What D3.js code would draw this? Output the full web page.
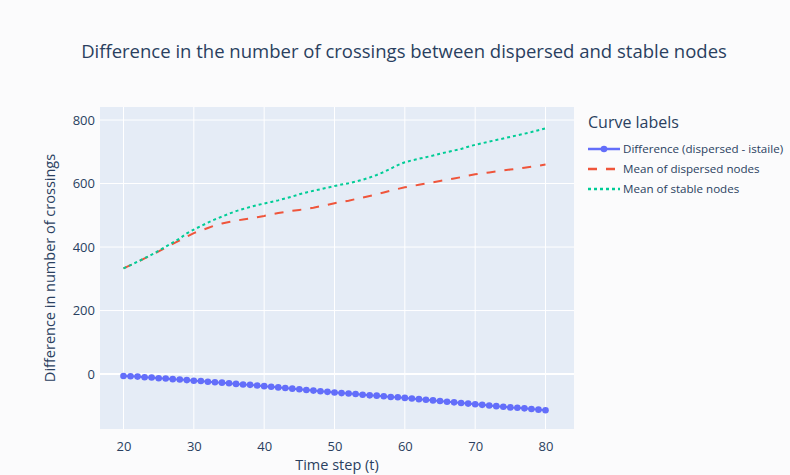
<!DOCTYPE html>
<html><head><meta charset="utf-8">
<script src="https://cdn.jsdelivr.net/npm/d3@7"></script>
<style>
body{margin:0;background:#fbfbfc;}
svg{display:block;font-family:"Open Sans",sans-serif;}
</style></head>
<body><svg id="c" width="790" height="475"></svg>
<script>
const timeSteps = d3.range(20, 81);
const difference = [-6,-7,-8,-10,-11,-13,-14,-16,-17,-19,-21,
  -22,-24,-26,-27,-29,-31,-33,-34,-36,-38,
  -40,-42,-44,-46,-48,-50,-52,-54,-56,-58,
  -60,-61,-63,-65,-67,-68,-70,-72,-73,-75,
  -77,-79,-81,-83,-85,-87,-89,-91,-93,-95,
  -97,-99,-101,-103,-105,-106,-108,-110,-112,-114];
const meanDispersed = [333,343,353,364,375,386,398,410,421,433,444,
  452,460,468,474,479,483,487,490,494,498,
  503,507,510,514,517,520,524,529,533,538,
  542,546,551,556,561,566,572,578,583,588,
  592,596,600,604,608,612,616,620,625,629,
  632,635,638,641,644,647,650,653,656,660];
const meanStable = [333,343,354,365,376,388,401,414,427,443,455,
  466,477,487,496,505,513,520,526,532,537,
  542,547,553,559,566,572,577,582,587,592,
  597,601,606,612,619,627,636,647,658,667,
  673,678,683,688,694,699,704,709,716,722,
  727,732,737,742,747,752,757,762,768,774];
const xTicks = [20,30,40,50,60,70,80];
const yTicks = [0,200,400,600,800];
const titleText = "Difference in the number of crossings between dispersed and stable nodes";
const xTitle = "Time step (t)";
const yTitle = "Difference in number of crossings";
const legendTitle = "Curve labels";
const seriesNames = ["Difference (dispersed - istaile)","Mean of dispersed nodes","Mean of stable nodes"];

const svg = d3.select("#c");
const L=100,R=574,T=107,B=429;
const x = d3.scaleLinear().domain([16.66,84.05]).range([L,R]);
const y = d3.scaleLinear().domain([-173,841]).range([B,T]);
const txt="#2a3f5f";

svg.append("rect").attr("x",L).attr("y",T).attr("width",R-L).attr("height",B-T).attr("fill","#E5ECF6");
const g=svg.append("g");
g.selectAll(".vx").data(xTicks).join("line").attr("x1",d=>x(d)).attr("x2",d=>x(d)).attr("y1",T).attr("y2",B).attr("stroke","#fff").attr("stroke-width",1);
g.selectAll(".hy").data(yTicks).join("line").attr("x1",L).attr("x2",R).attr("y1",d=>y(d)).attr("y2",d=>y(d)).attr("stroke","#fff").attr("stroke-width",d=>d===0?2:1);

// axes
const xa = svg.append("g").attr("transform",`translate(0,${B})`).call(d3.axisBottom(x).tickValues(xTicks).tickSize(0).tickPadding(13));
xa.select(".domain").remove();
xa.selectAll("text").attr("fill",txt).attr("font-size",13).attr("font-family","Open Sans");
const ya = svg.append("g").attr("transform",`translate(${L},0)`).call(d3.axisLeft(y).tickValues(yTicks).tickSize(0).tickPadding(5));
ya.select(".domain").remove();
ya.selectAll("text").attr("fill",txt).attr("font-size",13).attr("font-family","Open Sans");

const pts = (arr)=>timeSteps.map((t,i)=>[t,arr[i]]);
const line = d3.line().x(d=>x(d[0])).y(d=>y(d[1]));

svg.append("path").datum(pts(meanDispersed)).attr("d",line).attr("fill","none").attr("stroke","#EF553B").attr("stroke-width",2).attr("stroke-dasharray","9,9");
svg.append("path").datum(pts(meanStable)).attr("d",line).attr("fill","none").attr("stroke","#00CC96").attr("stroke-width",2).attr("stroke-dasharray","3,3");
svg.append("path").datum(pts(difference)).attr("d",line).attr("fill","none").attr("stroke","#636EFA").attr("stroke-width",2);
svg.append("g").selectAll("circle").data(pts(difference)).join("circle").attr("cx",d=>x(d[0])).attr("cy",d=>y(d[1])).attr("r",3.3).attr("fill","#636EFA");

// titles
svg.append("text").attr("x",404).attr("y",58).attr("text-anchor","middle").attr("fill",txt).attr("font-size",18.5).text(titleText);
svg.append("text").attr("x",(L+R)/2).attr("y",470).attr("text-anchor","middle").attr("fill",txt).attr("font-size",14.5).text(xTitle);
svg.append("text").attr("transform",`translate(55,${(T+B)/2}) rotate(-90)`).attr("text-anchor","middle").attr("fill",txt).attr("font-size",14.5).text(yTitle);

// legend
const lg = svg.append("g");
lg.append("text").attr("x",588).attr("y",128).attr("fill",txt).attr("font-size",16).text(legendTitle);
const styles=[{c:"#636EFA",d:null,m:true},{c:"#EF553B",d:"9,9"},{c:"#00CC96",d:"3,3"}];
seriesNames.forEach((n,i)=>{
  const yy=149+i*20;
  const ln=lg.append("line").attr("x1",588).attr("x2",620).attr("y1",yy).attr("y2",yy).attr("stroke",styles[i].c).attr("stroke-width",2.5);
  if(styles[i].d) ln.attr("stroke-dasharray",styles[i].d);
  if(styles[i].m) lg.append("circle").attr("cx",604).attr("cy",yy).attr("r",3.3).attr("fill",styles[i].c);
  lg.append("text").attr("x",623).attr("y",yy+4.2).attr("fill",txt).attr("font-size",11.6).text(n);
});
</script></body></html>
